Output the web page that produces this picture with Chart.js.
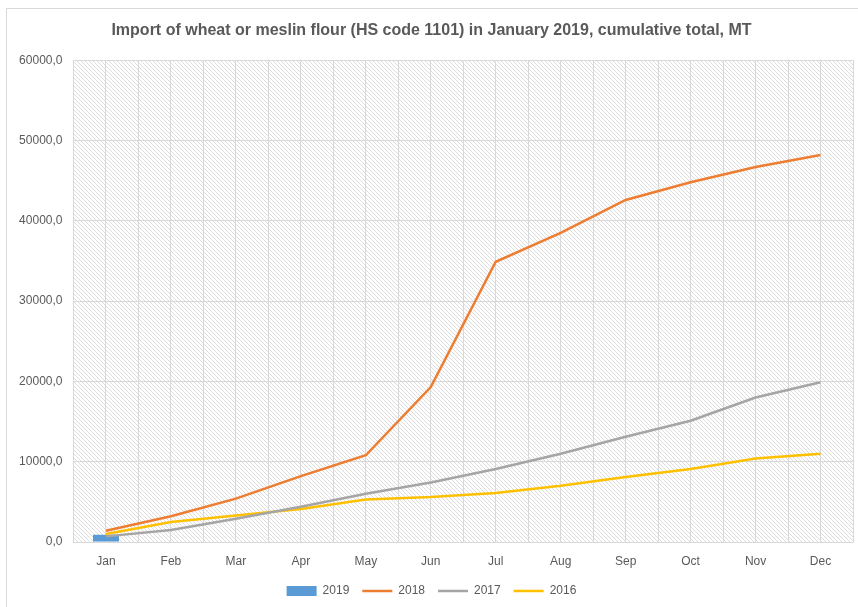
<!DOCTYPE html>
<html>
<head>
<meta charset="utf-8">
<script src="https://cdn.jsdelivr.net/npm/chart.js@4"></script>
<style>
  body { margin: 0; background: #fff; }
  #frame { position: absolute; left: 6px; top: 8px; width: 860px; height: 610px; border: 1px solid #d9d9d9; }
  #wrap { position: absolute; left: 0; top: 0; width: 858px; height: 607px; }
</style>
</head>
<body>
<div id="frame"></div>
<div id="wrap"><canvas id="chart"></canvas></div>
<script>
// data (MT, cumulative)
const months = ['Jan', 'Feb', 'Mar', 'Apr', 'May', 'Jun', 'Jul', 'Aug', 'Sep', 'Oct', 'Nov', 'Dec']
const y2019 = [900, null, null, null, null, null, null, null, null, null, null, null]
const y2018 = [1400, 3200, 5400, 8200, 10800, 19300, 34900, 38500, 42600, 44800, 46700, 48200]
const y2017 = [700, 1500, 2900, 4400, 6000, 7400, 9100, 11000, 13100, 15100, 18000, 19900]
const y2016 = [1000, 2500, 3300, 4100, 5300, 5600, 6100, 7000, 8100, 9100, 10400, 11000]
const yTicks = [0, 10000, 20000, 30000, 40000, 50000, 60000]

const gray = '#595959'
const gridCol = '#d9d9d9'

// diagonal hatch for the plot area
function makeHatch() {
  const c = document.createElement('canvas')
  c.width = 8; c.height = 8
  const g = c.getContext('2d')
  g.strokeStyle = '#dcdcdc'
  g.lineWidth = 1
  for (let o = -8; o <= 8; o += 4) {
    g.beginPath()
    g.moveTo(o, 0)
    g.lineTo(o + 8, 8)
    g.stroke()
  }
  return g.createPattern(c, 'repeat')
}

const hatchPlugin = {
  id: 'hatch',
  beforeDraw(chart) {
    const { ctx, chartArea: a } = chart
    ctx.save()
    ctx.fillStyle = makeHatch()
    ctx.fillRect(a.left, a.top, a.right - a.left, a.bottom - a.top)
    ctx.restore()
  }
}

function lineSet(label, data, color) {
  return {
    type: 'line', label, data,
    borderColor: color, backgroundColor: color,
    borderWidth: 2.5, pointRadius: 0, pointStyle: 'line',
    tension: 0, order: 1
  }
}

Chart.defaults.font.family = '"Liberation Sans", Arial, sans-serif'
Chart.defaults.color = gray

new Chart(document.getElementById('chart'), {
  type: 'bar',
  data: {
    labels: months,
    datasets: [
      {
        type: 'bar', label: '2019', data: y2019,
        backgroundColor: '#5b9bd5', borderWidth: 0,
        barPercentage: 0.4, categoryPercentage: 1,
        pointStyle: 'rect', order: 2
      },
      lineSet('2018', y2018, '#ed7d31'),
      lineSet('2017', y2017, '#a5a5a5'),
      lineSet('2016', y2016, '#ffc000')
    ]
  },
  options: {
    responsive: true,
    maintainAspectRatio: false,
    animation: false,
    layout: { padding: { left: 10, right: 5, top: 0, bottom: 0 } },
    scales: {
      x: {
        offset: true,
        grid: { offset: true, color: gridCol, drawTicks: false },
        border: { color: gridCol },
        ticks: { font: { size: 12 }, padding: 12 },
        afterFit(s) { s.height = 30 }
      },
      x2: {
        type: 'category', labels: months, position: 'bottom',
        offset: true,
        grid: { offset: false, color: gridCol, drawTicks: false },
        border: { display: false },
        ticks: { display: false },
        afterFit(s) { s.height = 0 }
      },
      y: {
        min: 0, max: 60000,
        afterBuildTicks(s) { s.ticks = yTicks.map(v => ({ value: v })) },
        grid: { color: gridCol, drawTicks: false },
        border: { display: false },
        ticks: {
          font: { size: 12 }, padding: 11,
          callback: v => v.toFixed(1).replace('.', ',')
        },
        afterFit(s) { s.width = 63.5 }
      }
    },
    plugins: {
      title: {
        display: true,
        text: 'Import of wheat or meslin flour (HS code 1101) in January 2019, cumulative total, MT',
        color: gray,
        font: { size: 16, weight: 'bold' },
        padding: { top: 21, bottom: 20 }
      },
      legend: {
        position: 'bottom',
        labels: {
          usePointStyle: true,
          pointStyleWidth: 30,
          boxHeight: 10,
          font: { size: 12 },
          padding: 13,
          sort: (a, b) => a.datasetIndex - b.datasetIndex
        }
      },
      tooltip: { enabled: false }
    }
  },
  plugins: [hatchPlugin]
})
</script>
</body>
</html>
